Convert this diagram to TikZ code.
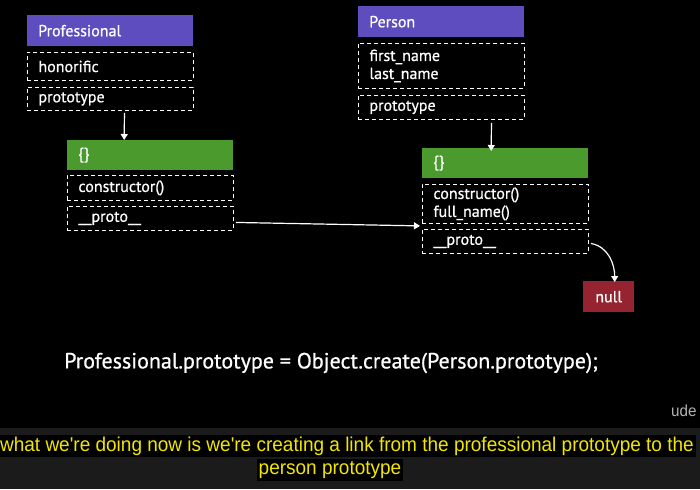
\documentclass[tikz,border=0pt]{standalone}
\usepackage{fontspec}
\setmainfont{PT Sans}
\newfontfamily\boxfont[FakeBold=0.7]{PT Sans}
\newfontfamily\capfont[FakeStretch=0.95]{Liberation Sans}
\usetikzlibrary{arrows.meta,positioning}

\definecolor{hdrpurple}{HTML}{5E4DBE}
\definecolor{objgreen}{HTML}{4A9A2E}
\definecolor{nullred}{HTML}{962330}
\definecolor{capband}{HTML}{1B1B1B}
\definecolor{capyellow}{HTML}{F2E600}

\begin{document}
\begin{tikzpicture}[x=1pt,y=-1pt,
    every node/.style={font=\boxfont\fontsize{16}{18}\selectfont, text=white, inner sep=0pt},
    hdr/.style={fill=hdrpurple, anchor=north west, minimum width=166pt, minimum height=31pt, text width=144pt, align=left},
    obj/.style={fill=objgreen, anchor=north west, minimum width=166pt, minimum height=30pt, text width=144pt, align=left},
    slot/.style={draw=white, dashed, dash pattern=on 4pt off 3pt, line width=0.9pt, anchor=north west, minimum width=166pt, text width=144pt, align=left},
    arr/.style={draw=white, line width=1.2pt, -{Triangle[width=7pt,length=6pt]}}]
    \useasboundingbox (0,0) rectangle (700,489);
    % Fondo
    \fill[black] (0,0) rectangle (700,489);
    \fill[capband] (0,428) rectangle (700,489);

    % Professional
    \node[hdr] (prof) at (27,15) {Professional};
    \node[slot, minimum height=28pt] (honor) at (27,52) {honorific};
    \node[slot, minimum height=23pt] (lptype) at (27,87) {prototype};

    % Objeto de Professional.prototype
    \node[obj] (lobj) at (67,140) {\{\}};
    \node[slot, minimum height=25pt] (lctor) at (67,175) {constructor()};
    \node[slot, minimum height=24pt] (lproto) at (67,206) {\_\_proto\_\_};

    % Person
    \node[hdr] (pers) at (358,6) {Person};
    \node[slot, minimum height=45pt] (fields) at (358,43) {first\_name\\last\_name};
    \node[slot, minimum height=24pt] (rptype) at (358,95) {prototype};

    % Objeto de Person.prototype
    \node[obj] (robj) at (422,148) {\{\}};
    \node[slot, minimum height=39pt] (rmeth) at (422,184) {constructor()\\full\_name()};
    \node[slot, minimum height=24pt] (rproto) at (422,229) {\_\_proto\_\_};

    % null
    \node[fill=nullred, anchor=north west, minimum width=51pt, minimum height=31pt] (null) at (583,281) {null};

    % Setas
    \draw[arr] ([xshift=14pt,yshift=-2pt]lptype.south) -- ([xshift=-26pt]lobj.north);
    \draw[arr] ([xshift=50pt,yshift=-3pt]rptype.south) -- ([xshift=-14pt,yshift=-3pt]robj.north);
    \draw[arr] ([xshift=2pt,yshift=-4pt]lproto.east) -- ([xshift=-2pt,yshift=-2pt]rmeth.south west);
    \draw[arr] ([xshift=2pt,yshift=-2pt]rproto.east) to[out=-10,in=90] ([xshift=6pt,yshift=-1pt]null.north);

    % Codigo
    \node[font=\boxfont\fontsize{22}{26}\selectfont] (code) at (331,363) {Professional.prototype = Object.create(Person.prototype);};

    % Legenda
    \node[text=gray!60, font=\capfont\fontsize{16}{18}\selectfont, anchor=west] (logo) at (671,411) {ude};
    \node[fill=black, text=capyellow, font=\capfont\fontsize{20}{23}\selectfont, inner xsep=2pt, inner ysep=2pt] (cap1) at (347,446) {what we're doing now is we're creating a link from the professional prototype to the};
    \node[fill=black, text=capyellow, font=\capfont\fontsize{20}{23}\selectfont, inner xsep=2pt, inner ysep=2pt] (cap2) at (330,470) {person prototype};
\end{tikzpicture}
\end{document}
